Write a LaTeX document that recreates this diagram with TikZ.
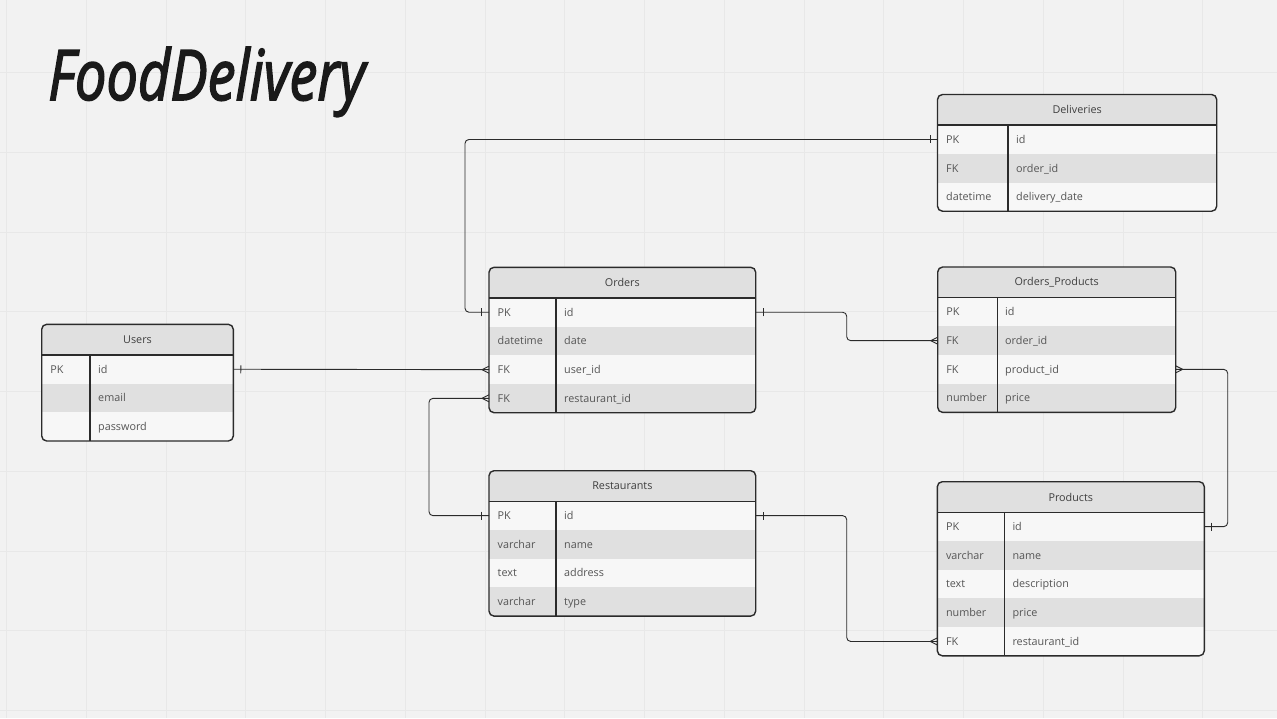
\documentclass[tikz,border=0pt]{standalone}
\usepackage{fontspec}
\setmainfont{Open Sans}
\newfontfamily\titlefont{Open Sans}[FakeBold=2.5]
\usepackage{graphicx}
\usetikzlibrary{decorations.markings}
\definecolor{fdbg}{HTML}{F2F2F2}
\definecolor{fdgrid}{HTML}{E8E8E8}
\definecolor{fdhead}{HTML}{E0E0E0}
\definecolor{fdrowa}{HTML}{F7F7F7}
\definecolor{fdrowb}{HTML}{E0E0E0}
\definecolor{fdline}{HTML}{2B2B2B}
\definecolor{fdtext}{HTML}{555555}
\definecolor{fdhtext}{HTML}{3F3F3F}
\definecolor{fdtitle}{HTML}{1A1A1A}

\begin{document}
\begin{tikzpicture}[
  x=1pt, y=-1pt,
  every node/.style={font=\fontsize{10.8}{13}\selectfont, text=fdtext},
  gridline/.style={draw=fdgrid, line width=1pt},
  tblhead/.style={anchor=north west, minimum height=30.6, inner sep=0pt, outer sep=0pt, fill=fdhead, text=fdhtext},
  tblrow/.style={anchor=north west, minimum height=28.7, inner sep=0pt, outer sep=0pt},
  cell/.style={anchor=west, inner sep=0pt, text height=7.7pt, text depth=0pt},
  frame/.style={draw=fdline, line width=1.4pt, rounded corners=5},
  divider/.style={draw=fdline, line width=1.4pt},
  link/.style={draw=fdline, line width=0.9pt, rounded corners=4},
  bar start/.style={postaction={decorate, decoration={markings, mark=at position 7.5pt with {\draw[fdline, line width=0.9pt] (0pt,-4pt) -- (0pt,4pt);}}}},
  bar end/.style={postaction={decorate, decoration={markings, mark=at position -7.5pt with {\draw[fdline, line width=0.9pt] (0pt,-4pt) -- (0pt,4pt);}}}},
  crow start/.style={postaction={decorate, decoration={markings, mark=at position 0 with {\draw[fdline, line width=0.9pt] (7pt,0pt) -- (0pt,3.5pt) (7pt,0pt) -- (0pt,-3.5pt);}}}},
  crow end/.style={postaction={decorate, decoration={markings, mark=at position 1 with {\draw[fdline, line width=0.9pt] (-7pt,0pt) -- (0pt,3.5pt) (-7pt,0pt) -- (0pt,-3.5pt);}}}},
]
\fill[fdbg] (0,0) rectangle (1277,718);
\useasboundingbox (0,0) rectangle (1277,718);

% Grid
\foreach \gx in {0,...,15} \draw[gridline] ({6.5+79.75*\gx},0) -- ({6.5+79.75*\gx},718);
\foreach \gy in {0,...,8} \draw[gridline] (0,{72.5+79.75*\gy}) -- (1277,{72.5+79.75*\gy});

% Title
\node[anchor=base west, inner sep=0pt, text=fdtitle] (title) at (48,100) {\resizebox{317pt}{53pt}{\titlefont\itshape FoodDelivery}};

% Users
\begin{scope}[shift={(41.7,324.3)}]
  \clip[rounded corners=5] (0,0) rectangle (191.6,116.7);
  \node[tblhead, minimum width=191.6] (usr) at (0,0) {Users};
  \foreach \k/\v [count=\i] in {PK/id, /email, /password} {
    \ifodd\i\relax\colorlet{rowc}{fdrowa}\else\colorlet{rowc}{fdrowb}\fi
    \node[tblrow, minimum width=191.6, fill=rowc] (usr-\i) at (0,{30.6+(\i-1)*28.7}) {};
    \node[cell] at ([xshift=8.5]usr-\i.west) {\k};
    \node[cell] at ([xshift=56.3]usr-\i.west) {\v};
  }
\end{scope}
\draw[frame] (usr.north west) rectangle (usr-3.south east);
\draw[divider] (usr.south west) -- (usr.south east) ([xshift=48.3]usr.south west) -- ([xshift=48.3]usr-3.south west);

% Orders
\begin{scope}[shift={(489,267.3)}]
  \clip[rounded corners=5] (0,0) rectangle (266.7,145.4);
  \node[tblhead, minimum width=266.7] (ord) at (0,0) {Orders};
  \foreach \k/\v [count=\i] in {PK/id, datetime/date, FK/user\_id, FK/restaurant\_id} {
    \ifodd\i\relax\colorlet{rowc}{fdrowa}\else\colorlet{rowc}{fdrowb}\fi
    \node[tblrow, minimum width=266.7, fill=rowc] (ord-\i) at (0,{30.6+(\i-1)*28.7}) {};
    \node[cell] at ([xshift=8.5]ord-\i.west) {\k};
    \node[cell] at ([xshift=75]ord-\i.west) {\v};
  }
\end{scope}
\draw[frame] (ord.north west) rectangle (ord-4.south east);
\draw[divider] (ord.south west) -- (ord.south east) ([xshift=67]ord.south west) -- ([xshift=67]ord-4.south west);

% Restaurants
\begin{scope}[shift={(489,470.7)}]
  \clip[rounded corners=5] (0,0) rectangle (266.7,145.4);
  \node[tblhead, minimum width=266.7] (rst) at (0,0) {Restaurants};
  \foreach \k/\v [count=\i] in {PK/id, varchar/name, text/address, varchar/type} {
    \ifodd\i\relax\colorlet{rowc}{fdrowa}\else\colorlet{rowc}{fdrowb}\fi
    \node[tblrow, minimum width=266.7, fill=rowc] (rst-\i) at (0,{30.6+(\i-1)*28.7}) {};
    \node[cell] at ([xshift=8.5]rst-\i.west) {\k};
    \node[cell] at ([xshift=75]rst-\i.west) {\v};
  }
\end{scope}
\draw[frame] (rst.north west) rectangle (rst-4.south east);
\draw[divider] (rst.south west) -- (rst.south east) ([xshift=67]rst.south west) -- ([xshift=67]rst-4.south west);

% Deliveries
\begin{scope}[shift={(937.5,94.5)}]
  \clip[rounded corners=5] (0,0) rectangle (279.2,116.7);
  \node[tblhead, minimum width=279.2] (dlv) at (0,0) {Deliveries};
  \foreach \k/\v [count=\i] in {PK/id, FK/order\_id, datetime/delivery\_date} {
    \ifodd\i\relax\colorlet{rowc}{fdrowa}\else\colorlet{rowc}{fdrowb}\fi
    \node[tblrow, minimum width=279.2, fill=rowc] (dlv-\i) at (0,{30.6+(\i-1)*28.7}) {};
    \node[cell] at ([xshift=8.5]dlv-\i.west) {\k};
    \node[cell] at ([xshift=78.5]dlv-\i.west) {\v};
  }
\end{scope}
\draw[frame] (dlv.north west) rectangle (dlv-3.south east);
\draw[divider] (dlv.south west) -- (dlv.south east) ([xshift=70.5]dlv.south west) -- ([xshift=70.5]dlv-3.south west);

% Orders_Products
\begin{scope}[shift={(937.7,267)}]
  \clip[rounded corners=5] (0,0) rectangle (238,145.4);
  \node[tblhead, minimum width=238] (op) at (0,0) {Orders\_Products};
  \foreach \k/\v [count=\i] in {PK/id, FK/order\_id, FK/product\_id, number/price} {
    \ifodd\i\relax\colorlet{rowc}{fdrowa}\else\colorlet{rowc}{fdrowb}\fi
    \node[tblrow, minimum width=238, fill=rowc] (op-\i) at (0,{30.6+(\i-1)*28.7}) {};
    \node[cell] at ([xshift=8.5]op-\i.west) {\k};
    \node[cell] at ([xshift=67.3]op-\i.west) {\v};
  }
\end{scope}
\draw[frame] (op.north west) rectangle (op-4.south east);
\draw[divider] (op.south west) -- (op.south east) ([xshift=60]op.south west) -- ([xshift=60]op-4.south west);

% Products
\begin{scope}[shift={(937.3,481.7)}]
  \clip[rounded corners=5] (0,0) rectangle (267,174.1);
  \node[tblhead, minimum width=267] (prd) at (0,0) {Products};
  \foreach \k/\v [count=\i] in {PK/id, varchar/name, text/description, number/price, FK/restaurant\_id} {
    \ifodd\i\relax\colorlet{rowc}{fdrowa}\else\colorlet{rowc}{fdrowb}\fi
    \node[tblrow, minimum width=267, fill=rowc] (prd-\i) at (0,{30.6+(\i-1)*28.7}) {};
    \node[cell] at ([xshift=8.5]prd-\i.west) {\k};
    \node[cell] at ([xshift=75]prd-\i.west) {\v};
  }
\end{scope}
\draw[frame] (prd.north west) rectangle (prd-5.south east);
\draw[divider] (prd.south west) -- (prd.south east) ([xshift=67]prd.south west) -- ([xshift=67]prd-5.south west);

% Relations
\draw[link, bar start, bar end] (dlv-1.west) -| ([xshift=-24]ord-1.west) -- (ord-1.west);
\draw[link, bar start, crow end] (usr-1.east) -- (ord-3.west);
\draw[link, bar start, crow end] (rst-1.west) -- ++(-60,0) |- (ord-4.west);
\draw[link, bar start, crow end] (ord-1.east) -- ++(91,0) |- (op-2.west);
\draw[link, crow start, bar end] (op-3.east) -- ++(52,0) |- (prd-1.east);
\draw[link, bar start, crow end] (rst-1.east) -- ++(91,0) |- (prd-5.west);
\end{tikzpicture}
\end{document}
